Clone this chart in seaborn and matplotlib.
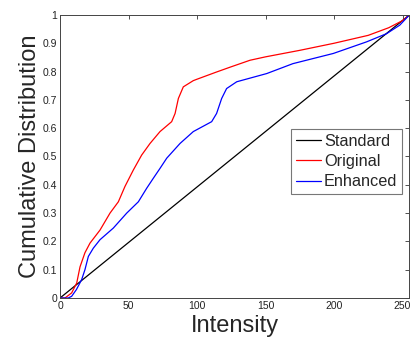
import matplotlib
matplotlib.use("Agg")
import matplotlib.pyplot as plt
import seaborn as sns
import pandas as pd
import numpy as np

std_x = [0, 255]
std_y = [0, 1]

orig_x = [0, 3.6, 8.5, 12.2, 14.6, 18.2, 21.9, 29.2, 36.5, 42.6, 47.4, 53.5, 59.6, 65.7, 73, 81.5,
          84, 86.4, 90, 97.3, 100, 114, 125, 138.7, 150, 175, 200, 225, 240, 250, 255]
orig_y = [0, 0, 0.018, 0.053, 0.11, 0.16, 0.194, 0.24, 0.30, 0.34, 0.394, 0.452, 0.505, 0.546, 0.588, 0.623,
          0.652, 0.705, 0.746, 0.768, 0.773, 0.798, 0.817, 0.840, 0.852, 0.875, 0.900, 0.928, 0.955, 0.980, 1.0]

enh_x = [0, 6, 8.5, 12, 15.8, 18.2, 20.7, 24.3, 29.2, 38.9, 48.7, 57.2, 63.3, 68.1, 73, 77.9, 87.6,
         97.3, 110.7, 114.3, 118, 121.6, 129, 150.9, 170, 199.5, 223.8, 238.4, 248, 255]
enh_y = [0, 0, 0.006, 0.03, 0.065, 0.10, 0.147, 0.176, 0.206, 0.247, 0.30, 0.34, 0.388, 0.423, 0.458, 0.494, 0.546,
         0.588, 0.623, 0.652, 0.705, 0.74, 0.764, 0.793, 0.828, 0.864, 0.905, 0.934, 0.964, 1.0]

xticks = [0, 50, 100, 150, 200, 250]
yticks = [0, 0.1, 0.2, 0.3, 0.4, 0.5, 0.6, 0.7, 0.8, 0.9, 1]
ytick_labels = ["0", "0.1", "0.2", "0.3", "0.4", "0.5", "0.6", "0.7", "0.8", "0.9", "1"]

sns.set_style("white")
plt.rcParams['font.family'] = ['Liberation Sans', 'DejaVu Sans']

fig = plt.figure(figsize=(4.11, 3.40), dpi=100)
ax = fig.add_axes([0.146, 0.1235, 0.850, 0.8325])

df = pd.concat([
    pd.DataFrame({"x": std_x, "y": std_y, "s": "Standard"}),
    pd.DataFrame({"x": orig_x, "y": orig_y, "s": "Original"}),
    pd.DataFrame({"x": enh_x, "y": enh_y, "s": "Enhanced"}),
])
sns.lineplot(data=df, x="x", y="y", hue="s", palette={"Standard": "black", "Original": "red", "Enhanced": "blue"},
             sort=False, estimator=None, linewidth=0.9, ax=ax)

ax.set_xlim(0, 255)
ax.set_ylim(0, 1)
ax.set_xticks(xticks)
ax.set_xticklabels([str(t) for t in xticks])
ax.set_yticks(yticks)
ax.set_yticklabels(ytick_labels)
ax.tick_params(direction='in', length=3, width=0.6, top=True, right=True, labelsize=7.5,
               colors='#333333', labelcolor='#222222', pad=2)
for sp in ax.spines.values():
    sp.set_visible(True)
    sp.set_color('#444444')
    sp.set_linewidth(0.7)

ax.set_xlabel("Intensity", fontsize=17, labelpad=3)
ax.set_ylabel("Cumulative Distribution", fontsize=17, labelpad=1)

leg = ax.legend(loc='upper left', bbox_to_anchor=(0.662, 0.597), fontsize=11.7, frameon=True, fancybox=False,
                handlelength=1.55, handletextpad=0.15, borderpad=0.3, labelspacing=0.32, borderaxespad=0)
leg.get_frame().set_edgecolor('#555555')
leg.get_frame().set_linewidth(0.8)
leg.set_title(None)

fig.savefig("out.png", dpi=100)
